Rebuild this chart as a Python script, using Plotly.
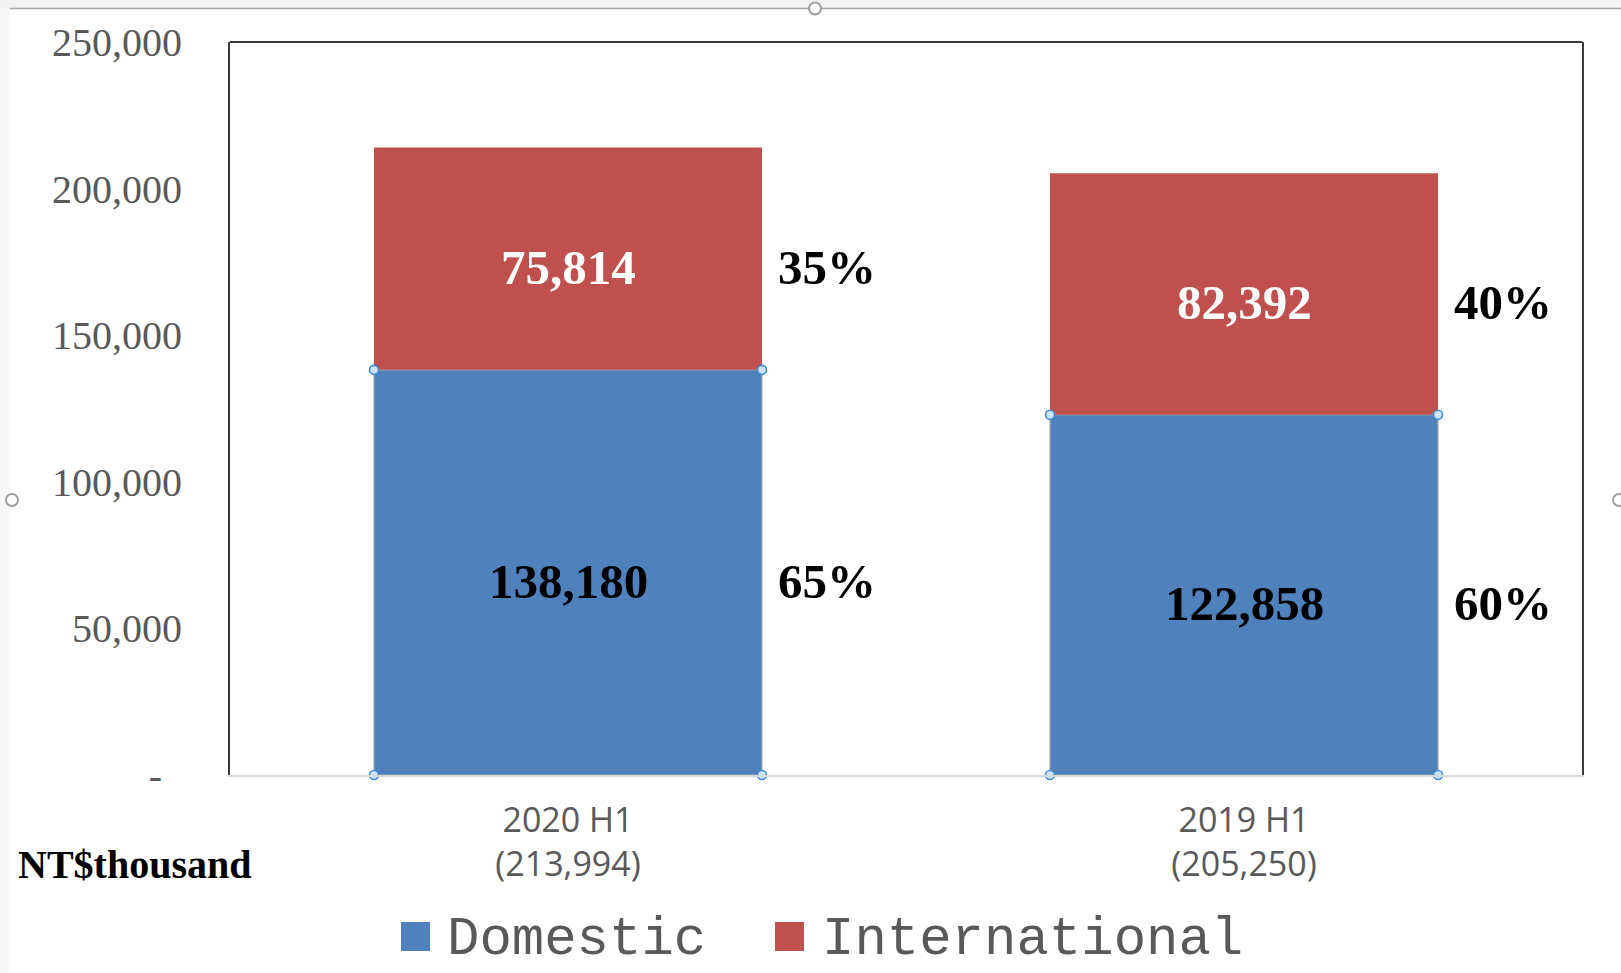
import plotly.graph_objects as go

# Revenue split, NT$ thousand
periods = ["2020 H1", "2019 H1"]
domestic = [138180, 122858]
international = [75814, 82392]
y_ticks = [0, 50000, 100000, 150000, 200000, 250000]
y_tick_text = ["-\u00a0\u00a0", "50,000", "100,000", "150,000", "200,000", "250,000"]
unit_label = "NT$thousand"
series_names = ["Domestic", "International"]

W, H = 1621, 973
ML, MR, MT, MB = 230, 39, 42, 198
PW, PH = W - ML - MR, H - MT - MB

BLUE = "#4F81BD"
RED = "#C0504D"
GREY_TXT = "#595959"
BAR_W = 0.574

totals = [d + i for d, i in zip(domestic, international)]
xs = list(range(len(periods)))
tick_text = [f"{p}<br>({t:,})" for p, t in zip(periods, totals)]


def px(x):
    return (x - ML) / PW


def py(y):
    return (H - MB - y) / PH


fig = go.Figure()
fig.add_trace(go.Bar(x=xs, y=domestic, name=series_names[0], width=BAR_W,
                     marker=dict(color=BLUE, line=dict(color="#a9a9a9", width=1)),
                     hoverinfo="skip"))
fig.add_trace(go.Bar(x=xs, y=international, base=domestic, name=series_names[1], width=BAR_W,
                     marker=dict(color=RED, line=dict(width=0)), hoverinfo="skip"))

# selection handles on the corners of the domestic series
hx, hy = [], []
for x, d in zip(xs, domestic):
    for dx in (-BAR_W / 2, BAR_W / 2):
        for yy in (0, d):
            hx.append(x + dx)
            hy.append(yy)
fig.add_trace(go.Scatter(x=hx, y=hy, mode="markers", cliponaxis=False, hoverinfo="skip",
                         marker=dict(size=9, color="#cfe4fa", line=dict(color="#3d8fe0", width=1.6))))

ann = []
LBL_FONT = dict(family="Liberation Serif", size=49)
for x, d, i, t in zip(xs, domestic, international, totals):
    segs = [(d / 2, d, "black"), (d + i / 2, i, "white")]
    for ymid, val, col in segs:
        ann.append(dict(x=x, y=ymid, xref="x", yref="y", text=f"<b>{val:,}</b>",
                        showarrow=False, yshift=-9, font=dict(color=col, **LBL_FONT)))
        ann.append(dict(x=x + BAR_W / 2, y=ymid, xref="x", yref="y",
                        text=f"<b>{round(val / t * 100)}%</b>", xanchor="left",
                        showarrow=False, xshift=14, yshift=-9,
                        font=dict(color="black", **LBL_FONT)))

ann.append(dict(x=px(16), y=py(864), xref="paper", yref="paper", text=f"<b>{unit_label}</b>",
                xanchor="left", yanchor="middle", showarrow=False,
                font=dict(family="Liberation Serif", size=40, color="black")))

# legend
shapes = []
legend_items = [(series_names[0], BLUE, 401, 445), (series_names[1], RED, 775, 820)]
for name, col, sx, tx in legend_items:
    shapes.append(dict(type="rect", xref="paper", yref="paper",
                       x0=px(sx), x1=px(sx + 29), y0=py(951), y1=py(922),
                       fillcolor=col, line=dict(width=0)))
    ann.append(dict(x=px(tx), y=py(939), xref="paper", yref="paper", text=name,
                    xanchor="left", yanchor="middle", showarrow=False,
                    font=dict(family="Liberation Mono", size=54, color=GREY_TXT)))

# plot-area frame: top edge (sides come from the y axis)
shapes.append(dict(type="line", xref="paper", yref="paper", x0=0, x1=1, y0=1, y1=1,
                   line=dict(color="#3a3a3a", width=2)))

# chart-object outline
shapes.append(dict(type="rect", xref="paper", yref="paper", x0=px(0), x1=px(W), y0=py(0), y1=py(8),
                   fillcolor="#f3f3f3", line=dict(width=0), layer="below"))
shapes.append(dict(type="rect", xref="paper", yref="paper", x0=px(0), x1=px(10), y0=py(8), y1=py(H),
                   fillcolor="#f7f7f7", line=dict(width=0), layer="below"))
shapes.append(dict(type="line", xref="paper", yref="paper", x0=px(10), x1=px(W), y0=py(8.5), y1=py(8.5),
                   line=dict(color="#a6a6a6", width=1.5)))
for cx, cy in [(815, 8.5), (12, 500), (1619, 500)]:
    shapes.append(dict(type="circle", xref="paper", yref="paper",
                       x0=px(cx - 6), x1=px(cx + 6), y0=py(cy + 6), y1=py(cy - 6),
                       fillcolor="white", line=dict(color="#a0a0a0", width=2)))

fig.update_layout(
    width=W, height=H,
    margin=dict(l=ML, r=MR, t=MT, b=MB),
    paper_bgcolor="white", plot_bgcolor="white",
    barmode="overlay", showlegend=False,
    annotations=ann, shapes=shapes,
    xaxis=dict(range=[-0.5, 1.5], tickvals=xs, ticktext=tick_text, showgrid=False, zeroline=False,
               showline=True, linecolor="#d9d9d9", linewidth=1.5, ticks="",
               ticklabelstandoff=14,
               tickfont=dict(family="Open Sans", size=34, color=GREY_TXT)),
    yaxis=dict(range=[0, 250000], tickvals=y_ticks, ticktext=y_tick_text, showgrid=False,
               zeroline=False, showline=True, mirror=True, linecolor="#3a3a3a", linewidth=2,
               ticks="", ticklabelstandoff=38,
               tickfont=dict(family="Liberation Serif", size=40, color=GREY_TXT)),
)

fig.write_html("out.html")
